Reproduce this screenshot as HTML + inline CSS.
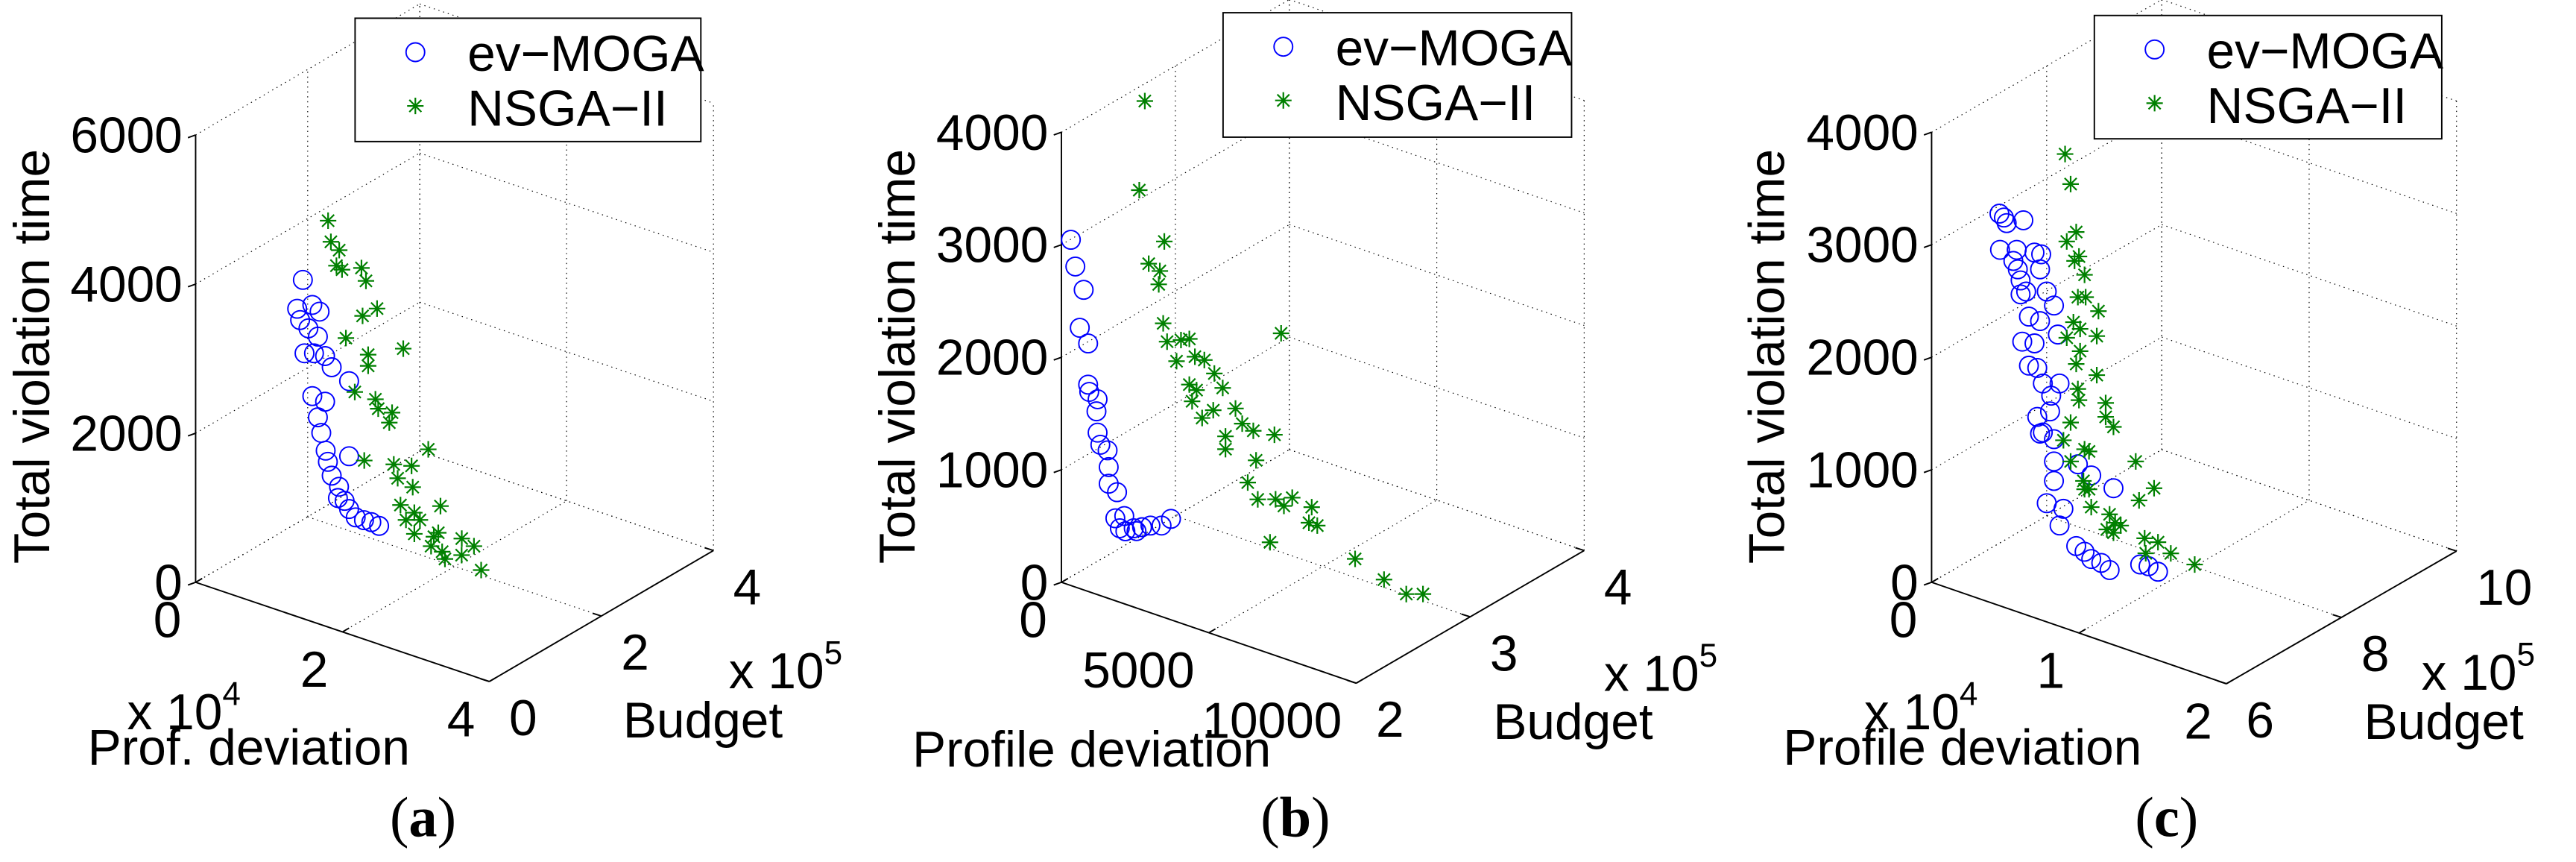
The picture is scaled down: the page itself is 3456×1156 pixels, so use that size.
<!DOCTYPE html>
<html><head><meta charset="utf-8">
<style>
html,body{margin:0;padding:0;background:#fff;}
body{width:3456px;height:1156px;position:relative;overflow:hidden;}
svg.panel{position:absolute;top:0;width:1152px;height:1156px;}
text{font-family:"Liberation Sans",Arial,sans-serif;fill:#000;}
</style></head>
<body>
<svg class="panel" id="pa" style="left:0" viewBox="0 0 1567 1572"></svg>
<svg class="panel" id="pb" style="left:1152px" viewBox="0 0 1567 1572"></svg>
<svg class="panel" id="pc" style="left:2304px" viewBox="0 0 1567 1572"></svg>
<script>
// ---------- Panel (a) data ----------
const aMogaDev = [6974,6200,8260,6600,7730,9020,7200,10000,10900,13270,8260,10000,9020,9480,10080,13270,10380,10900,11900,11750,12660,13270,14170,15300,16300,17360,8490,9250];
const aMogaBudget = [100000,100000,100000,100000,100000,100000,100000,100000,100000,100000,100000,100000,100000,100000,100000,100000,100000,100000,100000,100000,100000,100000,100000,100000,100000,100000,100000,100000];
const aMogaViol = [3849,3436,3556,3298,3224,3156,2872,2928,2808,2700,2333,2316,2074,1880,1662,1693,1522,1354,1238,1082,1074,985,903,903,910,895,2915,3499];
const aNsgaDev = [6595,6974,8110,7730,8490,11140,11750,13265,11290,9020,12050,16830,12050,10230,13040,13420,15310,14930,20240,11520,15540,17960,16070,18120,16450,21900,18340,19100,17200,21600,21000,18340,24800,26460,20620,22130,24780,22510,27440];
const aNsgaBudget = [150000,150000,150000,150000,150000,150000,150000,150000,150000,150000,150000,150000,150000,150000,150000,150000,150000,150000,150000,150000,150000,150000,150000,150000,150000,150000,150000,150000,150000,150000,150000,150000,150000,150000,150000,150000,150000,150000,150000];
const aNsgaViol = [4411,4140,4066,3845,3817,3928,3775,3454,3290,2917,2795,3035,2645,2234,2230,2116,2126,1980,1798,1358,1440,1500,1271,1220,925,1092,885,813,750,724,651,601,753,706,512,488,530,403,418];
const aDevTicks = [0,20000,40000]; const aDevTickLabels = ["0","2","4"];
const aBudTicks = [0,200000,400000]; const aBudTickLabels = ["0","2","4"];
const aViolTicks = [0,2000,4000,6000]; const aViolTickLabels = ["0","2000","4000","6000"];

// ---------- Panel (b) data ----------
const bMogaDev = [321,472,755,623,906,906,944,1227,1189,1227,1321,1566,1604,1604,1887,1830,2132,2170,2453,2736,3019,3397,3717,2547,1981];
const bMogaBudget = [200000,200000,200000,200000,200000,200000,200000,200000,200000,200000,200000,200000,200000,200000,200000,200000,200000,200000,200000,200000,200000,200000,200000,200000,200000];
const bMogaViol = [3073,2849,2667,2318,2204,1838,1777,1737,1626,1440,1341,1313,1168,1020,970,733,780,648,700,735,775,809,897,683,658];
const bNsgaDev = [896,708,1557,1028,1406,1368,1519,1651,2123,2406,1972,2595,2915,3255,3538,2406,2651,2500,2840,3217,3972,4199,4576,3632,3632,4670,5293,4387,4727,5331,5614,5897,6557,6463,6746,5142,5519,8029,9010,9765,10331];
const bNsgaBudget = [250000,250000,250000,250000,250000,250000,250000,250000,250000,250000,250000,250000,250000,250000,250000,250000,250000,250000,250000,250000,250000,250000,250000,250000,250000,250000,250000,250000,250000,250000,250000,250000,250000,250000,250000,250000,250000,250000,250000,250000,250000];
const bNsgaViol = [4063,3254,2874,2629,2598,2476,2143,1992,2049,2084,1847,1943,1942,1853,1750,1678,1651,1538,1420,1523,1606,1492,1462,1328,1214,1208,1491,985,866,921,887,986,961,814,814,522,2413,633,537,476,527];
const bDevTicks = [0,5000,10000]; const bDevTickLabels = ["0","5000","10000"];
const bBudTicks = [200000,300000,400000]; const bBudTickLabels = ["2","3","4"];
const bViolTicks = [0,1000,2000,3000,4000]; const bViolTickLabels = ["0","1000","2000","3000","4000"];

// ---------- Panel (c) data ----------
const cMogaDev = [3823,4125,4314,5446,3861,4993,6201,6654,5068,5257,4767,6578,7031,5257,5635,7522,5823,6578,7786,5370,6201,5823,6389,6767,7899,7333,7257,6389,6767,7522,7522,9144,7522,10050,11560,7031,8163,7899,9031,9597,10050,10730,11296,13371,13937,14579,6578];
const cMogaBudget = [620000,620000,620000,620000,620000,620000,620000,620000,620000,620000,620000,620000,620000,620000,620000,620000,620000,620000,620000,620000,620000,620000,620000,620000,620000,620000,620000,620000,620000,620000,620000,620000,620000,620000,620000,620000,620000,620000,620000,620000,620000,620000,620000,620000,620000,620000,620000];
const cMogaViol = [3390,3369,3328,3404,3070,3121,3151,3156,2951,2861,3012,3019,2842,2737,2779,2740,2565,2559,2494,2322,2344,2129,2134,2013,2064,1930,1787,1699,1578,1552,1354,1402,1181,1344,1298,961,962,802,670,645,601,597,559,702,712,692,1559];
const cNsgaDev = [6714,7091,7469,6827,7657,7356,8035,7582,8110,8978,7280,7733,6827,8865,7733,7469,8865,7582,7657,9469,9469,9997,7091,8035,8337,6601,7091,11507,7959,8035,8337,8488,9733,10110,9544,9997,11733,12752,12111,13017,13885,12186,15507,10488];
const cNsgaBudget = [660000,660000,660000,660000,660000,660000,660000,660000,660000,660000,660000,660000,660000,660000,660000,660000,660000,660000,660000,660000,660000,660000,660000,660000,660000,660000,660000,660000,660000,660000,660000,660000,660000,660000,660000,660000,660000,660000,660000,660000,660000,660000,660000,660000];
const cNsgaViol = [3932,3682,3273,3160,3064,3011,2918,2699,2723,2638,2463,2424,2304,2411,2226,2100,2064,1883,1787,1844,1720,1655,1563,1368,1362,1383,1217,1416,1083,1012,1026,874,866,808,723,714,1080,1234,760,766,706,630,680,800];
const cDevTicks = [0,10000,20000]; const cDevTickLabels = ["0","1","2"];
const cBudTicks = [600000,800000,1000000]; const cBudTickLabels = ["6","8","10"];
const cViolTicks = [0,1000,2000,3000,4000]; const cViolTickLabels = ["0","1000","2000","3000","4000"];

const NS = "http://www.w3.org/2000/svg";
const FS = 92;
function mk(parent, tag, attrs, txt){
  const e = document.createElementNS(NS, tag);
  for (const k in attrs) e.setAttribute(k, attrs[k]);
  if (txt !== undefined) e.textContent = txt;
  parent.appendChild(e);
  return e;
}

function drawPanel(svg, cfg){
  const O = cfg.origin;
  const P = (x,y,z) => {
    const fx = (x - cfg.xr[0])/(cfg.xr[1]-cfg.xr[0]);
    const fy = (y - cfg.yr[0])/(cfg.yr[1]-cfg.yr[0]);
    const fz = (z - cfg.zr[0])/(cfg.zr[1]-cfg.zr[0]);
    return [O[0] + fx*cfg.ex[0] + fy*cfg.ey[0], O[1] + fx*cfg.ex[1] + fy*cfg.ey[1] - fz*cfg.ezLen];
  };
  const line = (a,b,dotted,name) => {
    const l = mk(svg,'line',{x1:a[0],y1:a[1],x2:b[0],y2:b[1],stroke:'#000','stroke-width':dotted?1.6:2.6});
    if (dotted) l.setAttribute('stroke-dasharray','2 7');
    
    
  };
  const [x0,x1] = cfg.xr, [y0,y1] = cfg.yr, [z0,z1] = cfg.zr;
  cfg.xt.forEach(x => {
    line(P(x,y0,z0),P(x,y1,z0),true,'floor-grid-x');
    line(P(x,y1,z0),P(x,y1,z1),true,'back-grid-x');
  });
  cfg.yt.forEach(y => {
    line(P(x0,y,z0),P(x1,y,z0),true,'floor-grid-y');
    line(P(x0,y,z0),P(x0,y,z1),true,'side-grid-y');
  });
  cfg.zt.forEach(z => {
    line(P(x0,y0,z),P(x0,y1,z),true,'side-grid-z');
    line(P(x0,y1,z),P(x1,y1,z),true,'back-grid-z');
  });
  line(P(x0,y0,z0),P(x0,y0,z1),false,'z-axis');
  line(P(x0,y0,z0),P(x1,y0,z0),false,'x-axis');
  line(P(x1,y0,z0),P(x1,y1,z0),false,'y-axis');
  cfg.zt.forEach((z,i) => {
    const p = P(x0,y0,z);
    line(p,[p[0]-14,p[1]+5],false,'z-tick');
    const t = mk(svg,'text',{x:p[0]-24,y:p[1]+32,'font-size':FS,'text-anchor':'end'},cfg.ztl[i]);
    
    
  });
  cfg.xt.forEach((x,i) => {
    const p = P(x,y0,z0);
    line(p,[p[0]+12,p[1]-7],false,'x-tick');
    const t = mk(svg,'text',{x:p[0]-26,y:p[1]+100,'font-size':FS,'text-anchor':'end'},cfg.xtl[i]);
    
    
  });
  cfg.yt.forEach((y,i) => {
    const p = P(x1,y,z0);
    line(p,[p[0]-16,p[1]-5],false,'y-tick');
    const t = mk(svg,'text',{x:p[0]+36,y:p[1]+98,'font-size':FS,'text-anchor':'start'},cfg.ytl[i]);
    
    
  });
  cfg.series.forEach(s => {
    const g = mk(svg,'g',{});
    
    
    for (let i=0;i<s.dev.length;i++){
      const p = P(s.dev[i], s.bud[i], s.viol[i]);
      if (s.type==='o'){
        const c = mk(g,'circle',{cx:p[0],cy:p[1],r:17,fill:'none',stroke:'#0000ff','stroke-width':2.6});
        
        
      } else {
        const st = mk(g,'path',{d:`M${p[0]-15},${p[1]}h30M${p[0]},${p[1]-15}v30M${p[0]-11},${p[1]-11}l22,22M${p[0]+11},${p[1]-11}l-22,22`,stroke:'#008000','stroke-width':3,fill:'none'});
        
        
      }
    }
  });
  const L = cfg.legend;
  const lg = mk(svg,'g',{});
  
  
  mk(lg,'rect',{x:L[0],y:L[1],width:L[2],height:L[3],fill:'#fff',stroke:'#000','stroke-width':2.6});
  const mx = L[0]+110, tx = L[0]+205;
  mk(lg,'circle',{cx:mx,cy:L[1]+62,r:17,fill:'none',stroke:'#0000ff','stroke-width':2.6});
  const t1 = mk(lg,'text',{x:tx,y:L[1]+96,'font-size':FS},'ev\u2212MOGA');
  
  
  const sy = L[1]+160;
  mk(lg,'path',{d:`M${mx-15},${sy}h30M${mx},${sy-15}v30M${mx-11},${sy-11}l22,22M${mx+11},${sy-11}l-22,22`,stroke:'#008000','stroke-width':3});
  const t2 = mk(lg,'text',{x:tx,y:L[1]+196,'font-size':FS},'NSGA\u2212II');
  
  
  const zt = mk(svg,'text',{x:0,y:0,'font-size':FS,'text-anchor':'middle',transform:`translate(${cfg.zTitleX},650) rotate(-90)`},'Total violation time');
  
  
  const xt = mk(svg,'text',{x:cfg.xTitle[0],y:cfg.xTitle[1],'font-size':FS},cfg.xTitleText);
  
  
  if (cfg.xExp){
    const e = mk(svg,'text',{x:cfg.xExp[0],y:cfg.xExp[1],'font-size':FS},'x 10');
    mk(e,'tspan',{'font-size':60,dy:-44},'4');
    
    
  }
  const yt = mk(svg,'text',{x:cfg.yTitle[0],y:cfg.yTitle[1],'font-size':FS},'Budget');
  
  
  const ye = mk(svg,'text',{x:cfg.yExp[0],y:cfg.yExp[1],'font-size':FS},'x 10');
  mk(ye,'tspan',{'font-size':60,dy:-44},'5');
  
  
  const cap = mk(svg,'text',{x:cfg.capX,y:1525,'font-size':104,'text-anchor':'middle',style:'font-family:"Liberation Serif",serif'});
  mk(cap,'tspan',{},'(');
  mk(cap,'tspan',{'font-weight':'bold'},cfg.cap);
  mk(cap,'tspan',{},')');
  
  
}

drawPanel(document.getElementById('pa'),{
  origin:[357,1062], ex:[536,181], ey:[409,-239], ezLen:816,
  xr:[0,40000], yr:[0,400000], zr:[0,6000],
  xt:aDevTicks, xtl:aDevTickLabels, yt:aBudTicks, ytl:aBudTickLabels, zt:aViolTicks, ztl:aViolTickLabels,
  series:[{name:'ev-moga-series',type:'o',dev:aMogaDev,bud:aMogaBudget,viol:aMogaViol},
          {name:'nsga-ii-series',type:'*',dev:aNsgaDev,bud:aNsgaBudget,viol:aNsgaViol}],
  legend:[648,33,631,225], zTitleX:90, xTitle:[160,1395], xTitleText:'Prof. deviation', xExp:[232,1330],
  yTitle:[1137,1345], yExp:[1330,1255], capX:772, cap:'a'
});
drawPanel(document.getElementById('pb'),{
  origin:[370,1062], ex:[538,184], ey:[416,-242], ezLen:821,
  xr:[0,10000], yr:[200000,400000], zr:[0,4000],
  xt:bDevTicks, xtl:bDevTickLabels, yt:bBudTicks, ytl:bBudTickLabels, zt:bViolTicks, ztl:bViolTickLabels,
  series:[{name:'ev-moga-series',type:'o',dev:bMogaDev,bud:bMogaBudget,viol:bMogaViol},
          {name:'nsga-ii-series',type:'*',dev:bNsgaDev,bud:bNsgaBudget,viol:bNsgaViol}],
  legend:[665,23,636,227], zTitleX:102, xTitle:[98,1398], xTitleText:'Profile deviation', xExp:null,
  yTitle:[1158,1348], yExp:[1360,1260], capX:797, cap:'b'
});
drawPanel(document.getElementById('pc'),{
  origin:[391,1062], ex:[538,185], ey:[420,-242], ezLen:821,
  xr:[0,20000], yr:[600000,1000000], zr:[0,4000],
  xt:cDevTicks, xtl:cDevTickLabels, yt:cBudTicks, ytl:cBudTickLabels, zt:cViolTicks, ztl:cViolTickLabels,
  series:[{name:'ev-moga-series',type:'o',dev:cMogaDev,bud:cMogaBudget,viol:cMogaViol},
          {name:'nsga-ii-series',type:'*',dev:cNsgaDev,bud:cNsgaBudget,viol:cNsgaViol}],
  legend:[688,28,634,225], zTitleX:122, xTitle:[120,1395], xTitleText:'Profile deviation', xExp:[268,1330],
  yTitle:[1180,1348], yExp:[1285,1258], capX:820, cap:'c'
});
</script>
</body></html>
